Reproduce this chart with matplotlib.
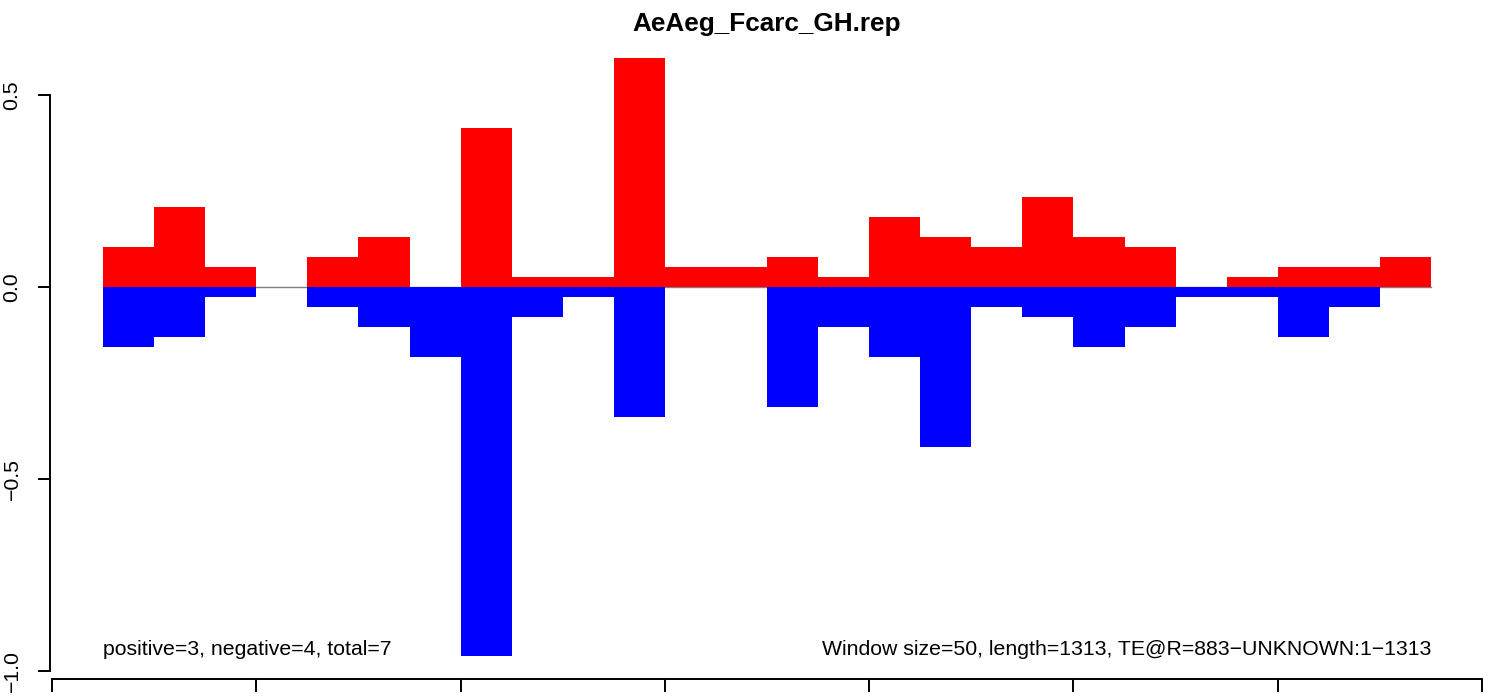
import numpy as np
import matplotlib
matplotlib.use('Agg')
import matplotlib.pyplot as plt

plt.rcParams['font.family'] = ['Liberation Sans', 'DejaVu Sans']

TITLE = 'AeAeg_Fcarc_GH.rep'
WINDOW = 50
# window start positions (bp)
starts = np.arange(50, 1350, WINDOW)
pos_vals = [0.104, 0.208, 0.052, 0.0, 0.078, 0.130, 0.0, 0.415, 0.026, 0.026,
            0.596, 0.052, 0.052, 0.078, 0.026, 0.182, 0.130, 0.104, 0.234, 0.130,
            0.104, 0.0, 0.026, 0.052, 0.052, 0.078]
neg_vals = [-0.156, -0.130, -0.026, 0.0, -0.052, -0.104, -0.182, -0.961, -0.078, -0.026,
            -0.339, 0.0, 0.0, -0.313, -0.104, -0.182, -0.417, -0.052, -0.078, -0.156,
            -0.104, -0.026, -0.026, -0.130, -0.052, 0.0]
yticks = [-1.0, -0.5, 0.0, 0.5]
xticks = np.arange(0, 1401, 200)
left_note = 'positive=3, negative=4, total=7'
right_note = 'Window size=50, length=1313, TE@R=883\u2212UNKNOWN:1\u22121313'

W, H = 1509, 698
fig = plt.figure(figsize=(W / 100, H / 100), dpi=100)
ax = fig.add_axes([50 / W, (H - 679) / H, (1485 - 50) / W, (679 - 34) / H])

# zero line behind the bars
ax.plot([starts[0], starts[-1] + WINDOW], [0, 0], color='gray', lw=1, zorder=1)
ax.bar(starts, pos_vals, width=WINDOW, align='edge', color='red', lw=0, zorder=2)
ax.bar(starts, neg_vals, width=WINDOW, align='edge', color='blue', lw=0, zorder=2)

ax.set_xlim(-1.96, 1402.9)
ax.set_ylim(-1.0208, 0.659)

for s in ['top', 'right']:
    ax.spines[s].set_visible(False)
ax.spines['left'].set_bounds(-1.0, 0.5)
ax.spines['bottom'].set_bounds(0, 1400)
ax.spines['left'].set_linewidth(1.4)
ax.spines['bottom'].set_linewidth(1.4)

ax.set_yticks(yticks)
ax.set_yticklabels([f'{v:.1f}'.replace('-', '\u2212') for v in yticks],
                   rotation=90, va='center', fontsize=15.3)
ax.set_xticks(xticks)
ax.set_xticklabels([])
ax.tick_params(axis='both', length=9, width=1.4, direction='out')
ax.tick_params(axis='y', pad=11.5)

ax.text(50, -0.958, left_note, ha='left', va='baseline', fontsize=15.3)
ax.text(1350, -0.958, right_note, ha='right', va='baseline', fontsize=15.3)

fig.text(767 / W, 1 - 31 / H, TITLE, ha='center', va='baseline',
         fontsize=18.8, fontweight='bold')

fig.savefig('out.png', dpi=100)
